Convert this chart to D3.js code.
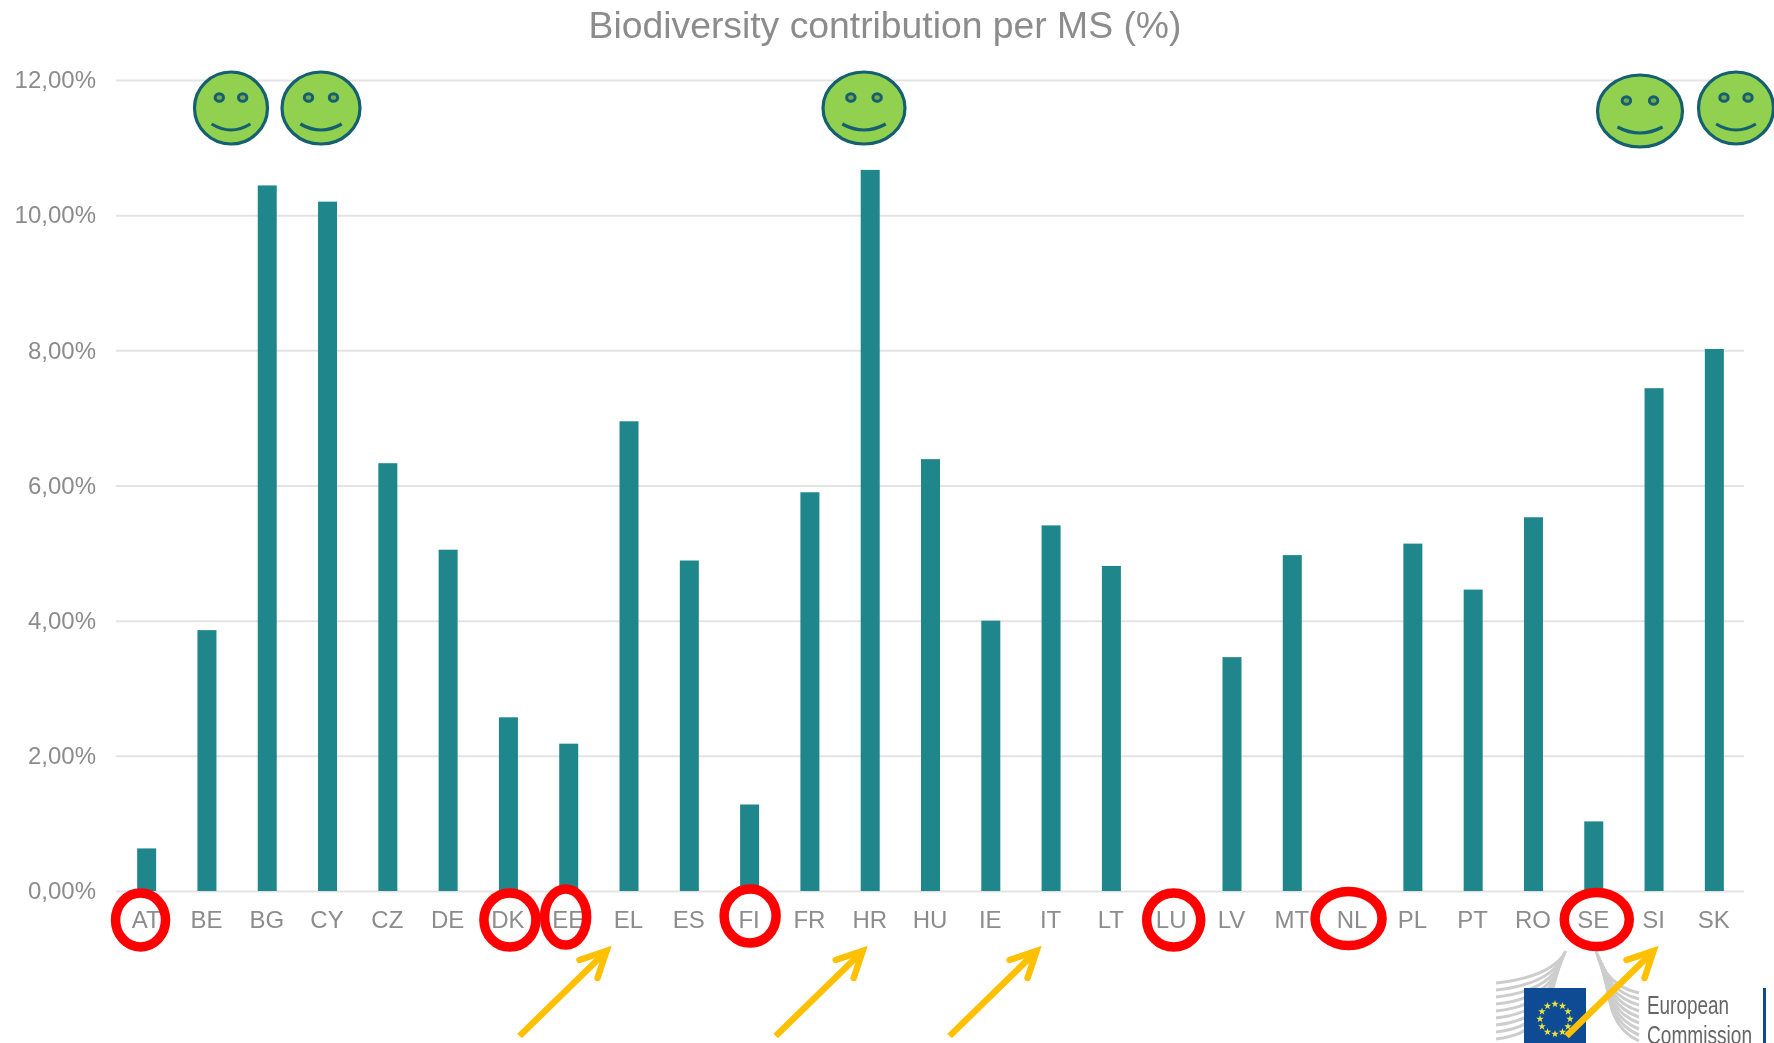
<!DOCTYPE html>
<html>
<head>
<meta charset="utf-8">
<script src="https://cdn.jsdelivr.net/npm/d3@7"></script>
<style>
  html, body { margin: 0; padding: 0; background: #fff; overflow: hidden; }
  svg { display: block; will-change: transform; }
  text { font-family: "Liberation Sans", Arial, sans-serif; }
</style>
</head>
<body>
<div id="chart"></div>
<script>
// Data
const countries = ["AT","BE","BG","CY","CZ","DE","DK","EE","EL","ES","FI","FR","HR","HU","IE","IT","LT","LU","LV","MT","NL","PL","PT","RO","SE","SI","SK"];
const contribution = [0.63,3.86,10.44,10.2,6.33,5.05,2.57,2.18,6.95,4.89,1.28,5.9,10.67,6.39,4.0,5.41,4.81,0,3.46,4.97,0,5.14,4.46,5.53,1.03,7.44,8.02];
const yTicks = [0,2,4,6,8,10,12];
const circled = ["AT","DK","EE","FI","LU","NL","SE"];
const arrowTargets = ["EL","HR","IT","SI"];

const W = 1774, H = 1043;
const margin = {top: 80, right: 30, bottom: 152, left: 116};

const svg = d3.select("#chart").append("svg").attr("width", W).attr("height", H);

const x = d3.scaleBand().domain(countries).range([margin.left, W - margin.right]);
const y = d3.scaleLinear().domain([0, 12]).range([H - margin.bottom, margin.top]);
const mid = d => x(d) + x.bandwidth() / 2;

// Title
svg.append("text")
  .attr("x", 885).attr("y", 38)
  .attr("text-anchor", "middle")
  .attr("font-size", 37.3)
  .attr("fill", "#8c8c8c")
  .text("Biodiversity contribution per MS (%)");

// Grid + y labels
const yAxis = svg.append("g")
  .attr("transform", `translate(${margin.left},0)`)
  .call(d3.axisLeft(y).tickValues(yTicks).tickSize(-(W - margin.left - margin.right)).tickPadding(20)
    .tickFormat(d => d3.format(".2f")(d).replace(".", ",") + "%"));
yAxis.select(".domain").remove();
yAxis.selectAll(".tick line").attr("stroke", "#e3e3e3").attr("stroke-width", 2);
yAxis.selectAll(".tick text").attr("font-size", 24).attr("fill", "#8c8c8c");

// Bars
svg.append("g").selectAll("rect")
  .data(countries)
  .join("rect")
  .attr("x", d => mid(d) - 9)
  .attr("width", 19)
  .attr("y", (d, i) => y(contribution[i]))
  .attr("height", (d, i) => y(0) - y(contribution[i]))
  .attr("fill", "#1f868b");

// X labels
const xAxis = svg.append("g")
  .attr("transform", `translate(0,${y(0)})`)
  .call(d3.axisBottom(x).tickSize(0).tickPadding(20));
xAxis.select(".domain").remove();
xAxis.selectAll(".tick text").attr("font-size", 24).attr("fill", "#8c8c8c");

// Logo (behind the last arrow)
const logo = svg.append("g");
d3.range(9).forEach(i => {
  logo.append("path")
    .attr("d", `M1496 ${983 + i * 7}Q1552 ${977 + i * 7} ${1566 - i * 1.5} ${951 + i * 3}`)
    .attr("fill", "none").attr("stroke", "#cdcdcd").attr("stroke-width", 3);
  logo.append("path")
    .attr("d", `M${1596 + i * 1.5} ${951 + i * 3}Q1606 ${986 + i * 5} 1639 ${993 + i * 6}`)
    .attr("fill", "none").attr("stroke", "#cdcdcd").attr("stroke-width", 3);
});
logo.append("rect").attr("x", 1524).attr("y", 988).attr("width", 62).attr("height", 55).attr("fill", "#0f4a94");
d3.range(12).forEach(i => {
  const a = i * Math.PI / 6;
  logo.append("path")
    .attr("d", d3.symbol(d3.symbolStar, 18)())
    .attr("transform", `translate(${1555 + 15 * Math.sin(a)},${1019 - 15 * Math.cos(a)})`)
    .attr("fill", "#e6e63c");
});
logo.append("text").attr("x", 1647).attr("y", 1014).attr("font-size", 25).attr("fill", "#666")
  .attr("font-family", "'Open Sans'").attr("textLength", 82).attr("lengthAdjust", "spacingAndGlyphs").text("European");
logo.append("text").attr("x", 1647).attr("y", 1044).attr("font-size", 25).attr("fill", "#666")
  .attr("font-family", "'Open Sans'").attr("textLength", 105).attr("lengthAdjust", "spacingAndGlyphs").text("Commission");
logo.append("rect").attr("x", 1763).attr("y", 988).attr("width", 3).attr("height", 55).attr("fill", "#0f4a94");

// Red circles on the labels: dx, dy below the axis, rx, ry
const circleOffset = {AT:[-5.6,29,25,27], DK:[2,29,26,27], EE:[-2.6,26,21,28], FI:[1,25,26,27], LU:[2.5,29,27,27], NL:[-3.5,27.5,33.5,27], SE:[3.5,28.5,32.5,27]};
svg.append("g").selectAll("ellipse")
  .data(circled)
  .join("ellipse")
  .attr("cx", d => mid(d) + circleOffset[d][0])
  .attr("cy", d => y(0) + circleOffset[d][1])
  .attr("rx", d => circleOffset[d][2])
  .attr("ry", d => circleOffset[d][3])
  .attr("fill", "none").attr("stroke", "#ff0000").attr("stroke-width", 9.5);

// Yellow arrows, tip offset from the label centre
const arrowDx = {EL: -21, HR: -6, IT: -13, SI: 1};
const arrowG = svg.append("g").attr("stroke", "#ffc000").attr("stroke-width", 6.5).attr("fill", "none");
arrowTargets.forEach(c => {
  const tx = mid(c) + arrowDx[c], ty = y(0) + 59;
  const sx = tx - 88, sy = ty + 86;
  arrowG.append("line").attr("x1", sx).attr("y1", sy).attr("x2", tx - 3).attr("y2", ty + 3);
  arrowG.append("path").attr("d", `M${tx - 28} ${ty + 10}L${tx - 1} ${ty + 1}L${tx - 10} ${ty + 28}`)
    .attr("stroke-linecap", "round").attr("stroke-linejoin", "miter");
});

// Smileys: cx, cy, rx, ry
const smileyPos = [[231,108,36.5,36],[321,108,39,36],[864,108,41,36],[1640,111,42.5,36],[1736,108,37.5,36]];
const smileyStroke = "#146070";
const smile = svg.append("g");
smileyPos.forEach(s => {
  const g = smile.append("g").attr("transform", `translate(${s[0]},${s[1]})`);
  g.append("ellipse").attr("rx", s[2]).attr("ry", s[3]).attr("fill", "#92d050").attr("stroke", smileyStroke).attr("stroke-width", 3.2);
  [-1, 1].forEach(k => g.append("ellipse").attr("cx", k * s[2] * 0.32).attr("cy", -10.5).attr("rx", 4.2).attr("ry", 3.8)
    .attr("fill", "#79a84a").attr("stroke", smileyStroke).attr("stroke-width", 3));
  g.append("path").attr("d", `M${-s[2] * 0.53} 16Q0 28 ${s[2] * 0.53} 16`).attr("fill", "none").attr("stroke", smileyStroke).attr("stroke-width", 3.2);
});
</script>
</body>
</html>
